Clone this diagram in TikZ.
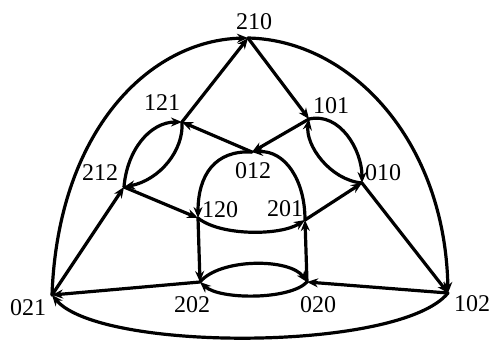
\documentclass[tikz,border=0pt]{standalone}
\usepackage{fontspec}
\setmainfont{Liberation Serif}
\usetikzlibrary{arrows.meta}
\begin{document}
\begin{tikzpicture}[x=1pt,y=-1pt,
  vtx/.style={shape=coordinate},
  lab/.style={inner sep=0pt,font=\fontsize{24}{24}\selectfont},
  edge/.style={line width=3.2pt,line cap=round,line join=round,-{Stealth[length=11pt,width=9pt]}},
]
\useasboundingbox (0,0) rectangle (490,341);
% vertices
\node[vtx] (v210) at (248,38) {};
\node[vtx] (v101) at (309,119) {};
\node[vtx] (v012) at (252,152) {};
\node[vtx] (v121) at (182,122) {};
\node[vtx] (v212) at (124,187) {};
\node[vtx] (v120) at (198,218) {};
\node[vtx] (v201) at (305,220) {};
\node[vtx] (v010) at (362,183) {};
\node[vtx] (v202) at (200,282) {};
\node[vtx] (v020) at (307,282) {};
\node[vtx] (v021) at (52,295) {};
\node[vtx] (v102) at (448,293) {};
% labels
\node[lab] (l210) at (254,22) {210};
\node[lab] (l101) at (331,106) {101};
\node[lab] (l121) at (162,103) {121};
\node[lab] (l212) at (100,173) {212};
\node[lab] (l012) at (253,171) {012};
\node[lab] (l010) at (383,173) {010};
\node[lab] (l120) at (220,210) {120};
\node[lab] (l201) at (285,209) {201};
\node[lab] (l202) at (192,305) {202};
\node[lab] (l020) at (318,305) {020};
\node[lab] (l021) at (28,308) {021};
\node[lab] (l102) at (472,304) {102};
% outer arcs
\draw[edge] (v021) .. controls (58,130) and (150,40) .. (v210);
\draw[edge] (v210) .. controls (350,40) and (445,140) .. (v102);
\draw[edge] (v102) .. controls (400,352) and (100,352) .. (v021);
% straight edges
\draw[edge] (v021) -- (v212);
\draw[edge] (v121) -- (v210);
\draw[edge] (v210) -- (v101);
\draw[edge] (v101) -- (v012);
\draw[edge] (v012) -- (v121);
\draw[edge] (v212) -- (v120);
\draw[edge] (v201) -- (v010);
\draw[edge] (v010) -- (v102);
\draw[edge] (v120) -- (v202);
\draw[edge] (v020) -- (v201);
\draw[edge] (v202) -- (v021);
\draw[edge] (v102) -- (v020);
% lens 212-121
\draw[edge] (v212) .. controls (127,150) and (150,122) .. (v121);
\draw[edge] (v121) .. controls (184,150) and (160,180) .. (v212);
% lens 101-010
\draw[edge] (v101) .. controls (340,112) and (362,150) .. (v010);
\draw[edge] (v010) .. controls (330,180) and (305,145) .. (v101);
% dome
\draw[edge] (v012) .. controls (215,150) and (198,175) .. (v120);
\draw[edge] (v201) .. controls (305,180) and (285,150) .. (v012);
\draw[edge] (v120) .. controls (220,236) and (280,236) .. (v201);
% ellipse
\draw[edge] (v202) .. controls (220,258) and (290,258) .. (v020);
\draw[edge] (v020) .. controls (290,300) and (220,300) .. (v202);
\end{tikzpicture}
\end{document}
